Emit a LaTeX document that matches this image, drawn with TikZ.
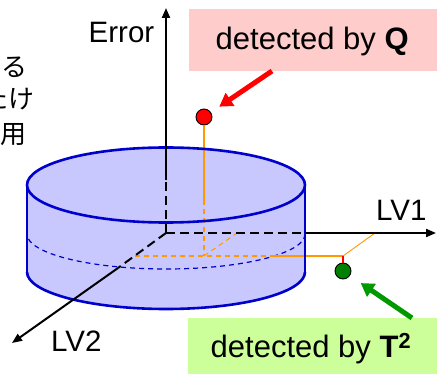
\documentclass[tikz,border=0pt]{standalone}
\usepackage{fontspec}
\setmainfont{Liberation Sans}
\newfontfamily\jpfont{Noto Sans CJK JP}
\usetikzlibrary{arrows.meta}

\definecolor{diskfill}{RGB}{200,200,255}
\definecolor{diskline}{RGB}{0,0,204}
\definecolor{projline}{RGB}{255,153,0}
\definecolor{qpink}{RGB}{255,204,204}
\definecolor{tlime}{RGB}{204,255,153}
\definecolor{arrowgreen}{RGB}{0,153,0}
\definecolor{dotgreen}{RGB}{0,128,0}

\tikzset{
  axis/.style={black, line width=2pt},
  axisdash/.style={axis, dash pattern=on 9pt off 5pt},
  axistip/.style={-{Triangle[length=10pt,width=8pt]}},
  rim/.style={diskline, line width=2.6pt},
  rimdash/.style={diskline, line width=1.2pt, dash pattern=on 5pt off 4pt},
  proj/.style={projline, line width=1.5pt},
  projdash/.style={projline, line width=1.3pt, dash pattern=on 5pt off 4pt},
  projthin/.style={projline, line width=0.9pt},
  dot/.style={circle, draw=black, line width=0.9pt, minimum size=16pt, inner sep=0pt},
  callout/.style={line width=5pt, -{Triangle[length=13pt,width=15pt]}},
  boxlabel/.style={inner sep=0pt, font=\fontsize{31}{37}\selectfont},
  axislabel/.style={inner sep=0pt, font=\fontsize{29.5}{35}\selectfont},
  jp/.style={inner sep=0pt, font=\jpfont\fontsize{26}{31}\selectfont},
}

\begin{document}
\begin{tikzpicture}[x=1pt, y=-1pt]
\clip (0,0) rectangle (437,374);
\fill[white] (0,0) rectangle (437,374);

% text on the left, cut by the edge of the picture
\node[jp, anchor=east] (jp1) at (28,67.5) {る};
\node[jp, anchor=east] (jp2) at (35,99) {たけ};
\node[jp, anchor=east] (jp3) at (27,134.5) {用};

% cylinder body
\fill[diskfill] (166,185) ellipse[x radius=139, y radius=37.5];
\fill[diskfill] (27,185) rectangle (305,272);
\fill[diskfill] (166,272) ellipse[x radius=139, y radius=37];

% front half of the disk in the LV1--LV2 plane
\draw[rimdash] (305,234) arc[start angle=0, end angle=180, x radius=139, y radius=35];

% axes
\coordinate (o) at (166,233);
\coordinate (errcut) at (166,180);
\coordinate (errtip) at (166,8);
\coordinate (lv1cut) at (305,233);
\coordinate (lv1tip) at (436,233);
\coordinate (lv2cut) at (118,268);
\coordinate (lv2tip) at (12,343);

% projections of the two samples
\node[dot, fill=red] (qdot) at (204,117) {};
\node[dot, fill=dotgreen] (tdot) at (343,271) {};
\coordinate (qcut) at (204,200);
\coordinate (qfoot) at (204,256);
\coordinate (qlv1) at (237,233);
\coordinate (tfoot) at (343,256);
\coordinate (tlv1) at (375,233);
\coordinate (tlv2) at (135,256);
\coordinate (tcut) at (273,256);

\draw[proj] (qdot.south) -- (qcut);
\draw[projdash] (qcut) -- (qfoot);
\draw[projdash, line width=1pt] (qfoot) -- (qlv1);
\draw[projdash] (tlv2) -- (tcut);
\draw[proj, line width=2pt] (tcut) -- (tfoot);
\draw[projthin] (tfoot) -- (tlv1);
\draw[red, line width=2pt] (tfoot) -- (tdot.north);

\draw[axisdash] (o) -- (errcut);
\draw[axisdash] (o) -- (lv1cut);
\draw[axisdash] (o) -- (lv2cut);

% cylinder outline
\draw[rim] (166,185) ellipse[x radius=139, y radius=37.5];
\draw[rim] (27,185) -- (27,272);
\draw[rim] (305,185) -- (305,272);
\draw[rim] (305,272) arc[start angle=0, end angle=180, x radius=139, y radius=37];

\draw[axis, axistip] (errcut) -- (errtip);
\draw[axis, axistip] (lv1cut) -- (lv1tip);
\draw[axis, axistip] (lv2cut) -- (lv2tip);

\node[axislabel, anchor=base west] (errlabel) at (88.5,43) {Error};
\node[axislabel, anchor=base west] (lv1label) at (376,221) {LV1};
\node[axislabel, anchor=base west] (lv2label) at (51,352) {LV2};

% call-outs
\node[fill=qpink, minimum width=248pt, minimum height=62pt, inner sep=0pt] (qbox) at (313,40) {};
\node[boxlabel, anchor=base west] (qtext) at (215.5,50) {detected by \textbf{Q}};
\node[fill=tlime, minimum width=250pt, minimum height=58pt, inner sep=0pt] (tbox) at (313,347) {};
\node[boxlabel, anchor=base west] (ttext) at (210.5,358) {detected by \textbf{T\textsuperscript{2}}};

\coordinate (qtail) at (272,71);
\coordinate (ttail) at (412,318);
\draw[callout, red, shorten >=10pt] (qtail) -- (qdot);
\draw[callout, arrowgreen, shorten >=13pt] (ttail) -- (tdot);
\end{tikzpicture}
\end{document}
